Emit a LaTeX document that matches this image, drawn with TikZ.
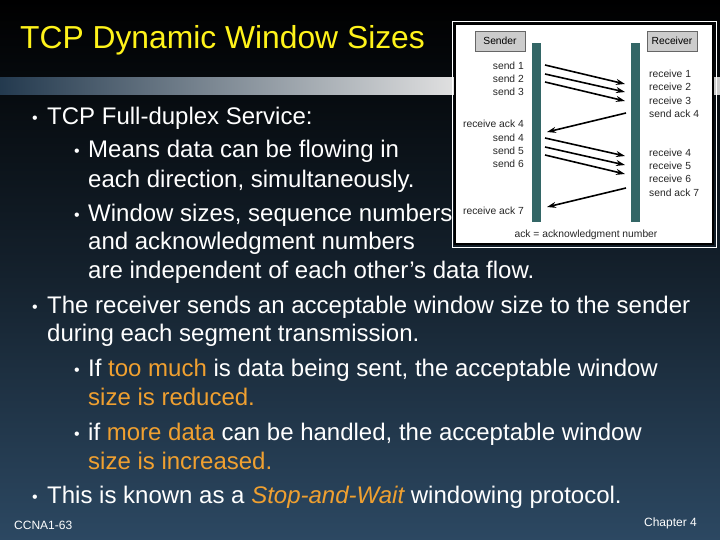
\documentclass[tikz,border=0pt]{standalone}
\usepackage{fontspec}
\setmainfont{Liberation Sans}
\usetikzlibrary{arrows.meta}
\begin{document}
\begin{tikzpicture}[x=1pt,y=-1pt,
  body/.style={anchor=west,inner sep=0pt,text=white,font=\fontsize{24}{28}\selectfont,text height=0.72em,text depth=0.22em,yshift=-6pt},
  bul/.style={anchor=center,inner sep=0pt,text=white,font=\fontsize{16}{18}\selectfont,yshift=-3.5pt},
  small/.style={anchor=east,inner sep=0pt,font=\fontsize{10.3}{12}\selectfont,text=black!85},
  rsmall/.style={small,anchor=west},
  lbl/.style={draw=black!60,fill=black!20,minimum width=50pt,minimum height=20pt,inner sep=0pt,font=\fontsize{10.3}{12}\selectfont},
  arr/.style={-{Stealth[length=9pt,width=6pt]},line width=1.6pt,black}]
\definecolor{hlc}{HTML}{F0A030}
\definecolor{bgtop}{HTML}{000000}
\definecolor{bgbot}{HTML}{2C4862}
\definecolor{barc}{HTML}{336666}
\useasboundingbox (0,0) rectangle (720,540);
\shade[top color=bgtop,bottom color=bgbot,middle color=bgbot!45!black] (0,0) rectangle (720,540);
\shade[left color=bgbot!80!black,right color=black!12] (0,78) rectangle (455,95);
\shade[left color=black!12,right color=black!20] (455,78) rectangle (720,95);
\node[anchor=west,inner sep=0pt,text=yellow!90!white,font=\fontsize{31.8}{36}\selectfont] (title) at (20,40) {TCP Dynamic Window Sizes};
% inset
\draw[fill=white,draw=black,line width=2pt] (455,24) rectangle (713,244);
\draw[white,line width=0.8pt] (452,21) rectangle (716,247);
\node[lbl] (snd) at (500,41) {Sender};
\node[lbl] (rcv) at (672,41) {Receiver};
\fill[barc] (532,43) rectangle (541,222);
\fill[barc] (631,43) rectangle (640,222);
\node[small] (s1) at (524,66) {send 1};
\node[small] (s2) at (524,79) {send 2};
\node[small] (s3) at (524,92) {send 3};
\node[small] (ra4) at (524,124) {receive ack 4};
\node[small] (s4) at (524,138) {send 4};
\node[small] (s5) at (524,151) {send 5};
\node[small] (s6) at (524,164) {send 6};
\node[small] (ra7) at (524,211) {receive ack 7};
\node[rsmall] (r1) at (649,74) {receive 1};
\node[rsmall] (r2) at (649,87) {receive 2};
\node[rsmall] (r3) at (649,101) {receive 3};
\node[rsmall] (sa4) at (649,114) {send ack 4};
\node[rsmall] (r4) at (649,153) {receive 4};
\node[rsmall] (r5) at (649,166) {receive 5};
\node[rsmall] (r6) at (649,179) {receive 6};
\node[rsmall] (sa7) at (649,193) {send ack 7};
\node[inner sep=0pt,font=\fontsize{10.3}{12}\selectfont,text=black!85] (foot) at (586,235) {ack = acknowledgment number};
\coordinate (a1) at (545,65); \coordinate (b1) at (625,84);
\coordinate (a2) at (545,74); \coordinate (b2) at (625,92);
\coordinate (a3) at (545,82); \coordinate (b3) at (625,101);
\coordinate (c1) at (626,113); \coordinate (d1) at (547,132);
\coordinate (a4) at (545,138); \coordinate (b4) at (625,156);
\coordinate (a5) at (545,147); \coordinate (b5) at (625,165);
\coordinate (a6) at (545,155); \coordinate (b6) at (625,174);
\coordinate (c2) at (626,188); \coordinate (d2) at (547,207);
\draw[arr] (a1) -- (b1); \draw[arr] (a2) -- (b2); \draw[arr] (a3) -- (b3);
\draw[arr] (c1) -- (d1);
\draw[arr] (a4) -- (b4); \draw[arr] (a5) -- (b5); \draw[arr] (a6) -- (b6);
\draw[arr] (c2) -- (d2);
% body text
\node[bul] (l1b) at (35,116) {\textbullet};
\node[body] (l1) at (47,116) {TCP Full-duplex Service:};
\node[bul] (l2b) at (77,149) {\textbullet};
\node[body] (l2) at (88,149) {Means data can be flowing in};
\node[body] (l3) at (88,179) {each direction, simultaneously.};
\node[bul] (l4b) at (77,213) {\textbullet};
\node[body] (l4) at (88,213) {Window sizes, sequence numbers};
\node[body] (l5) at (88,241) {and acknowledgment numbers};
\node[body] (l6) at (88,270) {are independent of each other’s data flow.};
\node[bul] (l7b) at (35,305) {\textbullet};
\node[body] (l7) at (47,305) {The receiver sends an acceptable window size to the sender};
\node[body] (l8) at (47,333) {during each segment transmission.};
\node[bul] (l9b) at (77,368) {\textbullet};
\node[body] (l9) at (88,368) {If \textcolor{hlc}{too much} is data being sent, the acceptable window};
\node[body] (l10) at (88,397) {\textcolor{hlc}{size is reduced.}};
\node[bul] (l11b) at (77,432) {\textbullet};
\node[body] (l11) at (88,432) {if \textcolor{hlc}{more data} can be handled, the acceptable window};
\node[body] (l12) at (88,461) {\textcolor{hlc}{size is increased.}};
\node[bul] (l13b) at (35,495) {\textbullet};
\node[body] (l13) at (47,495) {This is known as a \textcolor{hlc}{\itshape Stop-and-Wait} windowing protocol.};
\node[anchor=west,inner sep=0pt,text=white,font=\fontsize{12}{14}\selectfont] (cc) at (14,525) {CCNA1-63};
\node[anchor=east,inner sep=0pt,text=white,font=\fontsize{12}{14}\selectfont] (ch) at (697,523) {Chapter 4};
\end{tikzpicture}
\end{document}
